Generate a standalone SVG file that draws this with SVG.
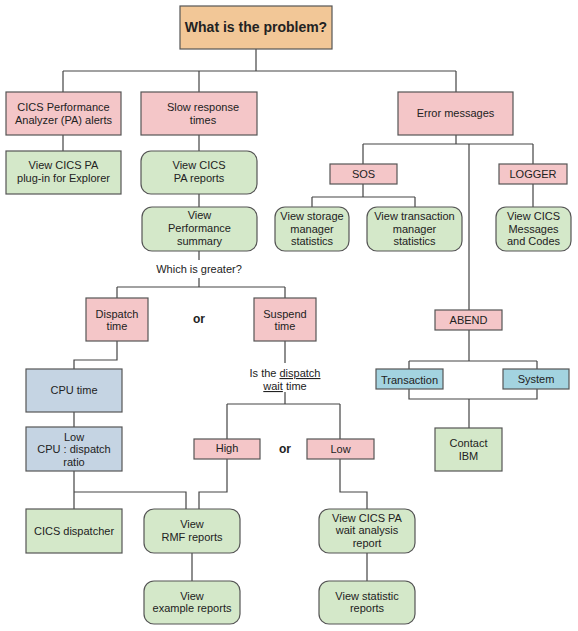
<svg xmlns="http://www.w3.org/2000/svg" width="578" height="631" viewBox="0 0 578 631">
<style>
text{font-family:"Liberation Sans",Arial,sans-serif;font-size:11px;fill:#222;text-anchor:middle}
.t{font-size:14px;font-weight:bold}
.b{font-size:12px;font-weight:bold}
rect{stroke:#555;stroke-width:1.2}
.o{fill:#f2c797}
.p{fill:#f4c6c8}
.g{fill:#d4e8c9}
.s{fill:#c5d4e3}
.l{fill:#a3d3e0}
#connectors path{fill:none;stroke:#444;stroke-width:1.2}
</style>
<rect width="578" height="631" fill="#fff" style="stroke:none"/>
<g id="connectors">
<path d="M256 49V71M63 71H456M63 71V92M199 71V92M456 71V92"/>
<path d="M63 135V151M199 135V151M199 194V207"/>
<path d="M456 135V144M363 144H533M363 144V164M533 144V164M469 144V310"/>
<path d="M363 184V197M312 197H415M312 197V207M415 197V207M533 184V207"/>
<path d="M469 330V361M409 361H537M409 361V369M537 361V369"/>
<path d="M409 389V399H537V389M469 399V428"/>
<path d="M199 251V260M199 278V287M117 287H285M117 287V298M285 287V298"/>
<path d="M117 341V360H74V369M74 412V427M74 471V509M74 492H186V509"/>
<path d="M285 341V363M285 392V404M227 404H340M227 404V439M340 404V439"/>
<path d="M227 459V492H199V509M340 459V492H367V509M367 553V581M192 553V581"/>
</g>
<g id="n-problem"><rect class="o" x="180" y="6" width="152" height="43"/><text class="t" x="256" y="32">What is the problem?</text></g>
<g id="n-pa-alerts"><rect class="p" x="6" y="92" width="115" height="43"/><text x="63.5" y="111">CICS Performance</text><text x="63.5" y="124">Analyzer (PA) alerts</text></g>
<g id="n-slow"><rect class="p" x="141" y="92" width="116" height="43"/><text x="203" y="111">Slow response</text><text x="203" y="124">times</text></g>
<g id="n-error"><rect class="p" x="398" y="92" width="115" height="43"/><text x="455.5" y="117">Error messages</text></g>
<g id="n-pa-plugin"><rect class="g" x="6" y="151" width="115" height="43"/><text x="63.5" y="169">View CICS PA</text><text x="63.5" y="182">plug-in for Explorer</text></g>
<g id="n-pa-reports"><rect class="g" x="141" y="151" width="116" height="43" rx="10"/><text x="199" y="169">View CICS</text><text x="199" y="182">PA reports</text></g>
<g id="n-perf-summary"><rect class="g" x="142" y="207" width="115" height="44" rx="10"/><text x="199.5" y="219">View</text><text x="199.5" y="232">Performance</text><text x="199.5" y="245">summary</text></g>
<g id="n-sos"><rect class="p" x="330" y="164" width="67" height="20"/><text x="363.5" y="178">SOS</text></g>
<g id="n-logger"><rect class="p" x="499" y="164" width="68" height="20"/><text x="533" y="178">LOGGER</text></g>
<g id="n-storage"><rect class="g" x="275" y="207" width="74" height="44" rx="10"/><text x="312" y="220">View storage</text><text x="312" y="233">manager</text><text x="312" y="245">statistics</text></g>
<g id="n-txn-mgr"><rect class="g" x="367" y="207" width="95" height="44" rx="10"/><text x="414.5" y="220">View transaction</text><text x="414.5" y="233">manager</text><text x="414.5" y="245">statistics</text></g>
<g id="n-messages"><rect class="g" x="496" y="207" width="75" height="44" rx="10"/><text x="533.5" y="220">View CICS</text><text x="533.5" y="233">Messages</text><text x="533.5" y="245">and Codes</text></g>
<g id="n-which"><text x="199" y="273">Which is greater?</text></g>
<g id="n-dispatch"><rect class="p" x="86" y="298" width="62" height="43"/><text x="117" y="318">Dispatch</text><text x="117" y="330">time</text></g>
<g id="n-or1"><text class="b" x="199" y="323">or</text></g>
<g id="n-suspend"><rect class="p" x="254" y="298" width="62" height="43"/><text x="285" y="318">Suspend</text><text x="285" y="330">time</text></g>
<g id="n-cpu"><rect class="s" x="26" y="369" width="96" height="43"/><text x="74" y="394">CPU time</text></g>
<g id="n-low-cpu"><rect class="s" x="26" y="427" width="96" height="44"/><text x="74" y="441">Low</text><text x="74" y="453">CPU : dispatch</text><text x="74" y="466">ratio</text></g>
<g id="n-is-dispatch"><text x="285" y="377">Is the <tspan text-decoration="underline">dispatch</tspan></text><text x="285" y="390"><tspan text-decoration="underline">wait</tspan> time</text></g>
<g id="n-high"><rect class="p" x="194" y="439" width="66" height="20"/><text x="227" y="452">High</text></g>
<g id="n-or2"><text class="b" x="285" y="453">or</text></g>
<g id="n-low"><rect class="p" x="307" y="439" width="67" height="20"/><text x="340.5" y="453">Low</text></g>
<g id="n-dispatcher"><rect class="g" x="26" y="509" width="96" height="44"/><text x="74" y="535">CICS dispatcher</text></g>
<g id="n-rmf"><rect class="g" x="144" y="509" width="96" height="44" rx="10"/><text x="192" y="528">View</text><text x="192" y="541">RMF reports</text></g>
<g id="n-wait-analysis"><rect class="g" x="319" y="509" width="96" height="44" rx="10"/><text x="367" y="522">View CICS PA</text><text x="367" y="534">wait analysis</text><text x="367" y="547">report</text></g>
<g id="n-example"><rect class="g" x="144" y="581" width="96" height="43" rx="10"/><text x="192" y="600">View</text><text x="192" y="612">example reports</text></g>
<g id="n-statistic"><rect class="g" x="319" y="581" width="96" height="43" rx="10"/><text x="367" y="600">View statistic</text><text x="367" y="612">reports</text></g>
<g id="n-abend"><rect class="p" x="435" y="310" width="67" height="20"/><text x="468.5" y="324">ABEND</text></g>
<g id="n-transaction"><rect class="l" x="376" y="369" width="67" height="20"/><text x="409.5" y="384">Transaction</text></g>
<g id="n-system"><rect class="l" x="503" y="369" width="66" height="20"/><text x="536" y="383">System</text></g>
<g id="n-contact"><rect class="g" x="435" y="428" width="67" height="43"/><text x="468.5" y="447">Contact</text><text x="468.5" y="460">IBM</text></g>
</svg>
